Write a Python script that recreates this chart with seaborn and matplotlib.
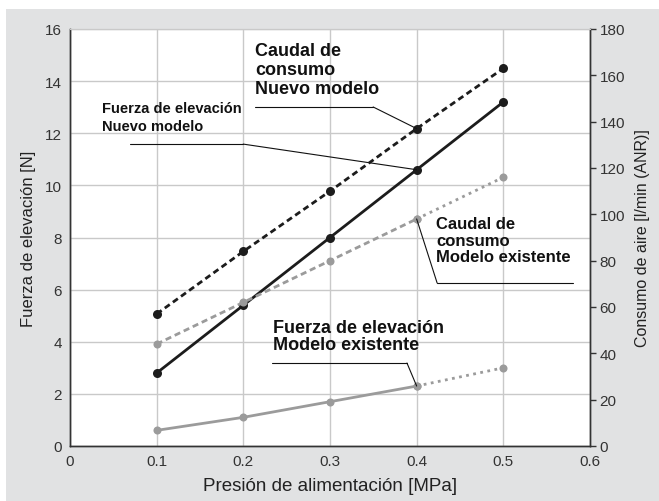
import numpy as np
import matplotlib
matplotlib.use('Agg')
import matplotlib.pyplot as plt
import seaborn as sns
from matplotlib.patches import Rectangle

# data
presion = [0.1, 0.2, 0.3, 0.4, 0.5]
fuerza_nuevo = [2.8, 5.4, 8.0, 10.6, 13.2]
fuerza_existente = [0.6, 1.1, 1.7, 2.3, 3.0]
caudal_nuevo = [57, 84, 110, 137, 163]
caudal_existente = [44, 62, 80, 98, 116]

x_ticks = [0, 0.1, 0.2, 0.3, 0.4, 0.5, 0.6]
x_labels = ['0', '0.1', '0.2', '0.3', '0.4', '0.5', '0.6']
y_left_ticks = [0, 2, 4, 6, 8, 10, 12, 14, 16]
y_right_ticks = [0, 20, 40, 60, 80, 100, 120, 140, 160, 180]

BLACK = '#1c1c1c'
GRAY = '#9b9b9b'
BG = '#e1e2e3'
GRID = '#c9c9c9'
INK = '#111111'

sns.set_style('white')
plt.rcParams['font.family'] = ['Liberation Sans', 'DejaVu Sans']

fig = plt.figure(figsize=(6.59, 5.02), dpi=100)
fig.patches.append(Rectangle((6 / 659, 0), 1, 1 - 10 / 502, transform=fig.transFigure,
                             facecolor=BG, edgecolor='none', zorder=-10))
ax = fig.add_axes([70 / 659, 1 - 447 / 502, 520 / 659, 417 / 502])
ax.set_facecolor('white')
ax2 = ax.twinx()


def draw(axis, xs, ys, color, ls, lw, ms):
    sns.lineplot(x=xs, y=ys, ax=axis, color=color, linestyle=ls, linewidth=lw,
                 marker='o', markersize=ms, markeredgewidth=0, legend=False)


# force lines (left axis)
draw(ax, presion, fuerza_nuevo, BLACK, '-', 2.0, 6.5)
draw(ax, presion[:4], fuerza_existente[:4], GRAY, '-', 2.0, 5.8)
draw(ax, presion[3:], fuerza_existente[3:], GRAY, (0, (1, 1.6)), 2.0, 5.8)

# flow lines (right axis)
draw(ax2, presion, caudal_nuevo, BLACK, (0, (2.2, 1.4)), 2.0, 6.5)
draw(ax2, presion[:4], caudal_existente[:4], GRAY, (0, (2.2, 1.4)), 2.0, 5.8)
draw(ax2, presion[3:], caudal_existente[3:], GRAY, (0, (1, 1.6)), 2.0, 5.8)

ax.set_xlim(0, 0.6)
ax.set_ylim(0, 16)
ax2.set_ylim(0, 180)
ax.set_xticks(x_ticks)
ax.set_xticklabels(x_labels)
ax.set_yticks(y_left_ticks)
ax2.set_yticks(y_right_ticks)
ax.grid(True, color=GRID, linewidth=1.0)
ax.set_axisbelow(True)

ax.tick_params(axis='both', length=0, labelsize=11, colors='#333333')
ax.tick_params(axis='x', pad=6)
ax.tick_params(axis='y', pad=6)
ax2.tick_params(axis='y', length=4, width=1, color='#333333', labelsize=11,
                labelcolor='#333333', pad=3)

for a in (ax, ax2):
    for s in ('left', 'bottom', 'right'):
        a.spines[s].set_color('#333333')
        a.spines[s].set_linewidth(1.0)
    a.spines['top'].set_color(GRID)

ax.set_xlabel('Presión de alimentación [MPa]', fontsize=13.5, color='#222222', labelpad=6)
ax.set_ylabel('Fuerza de elevación [N]', fontsize=12, color='#222222', labelpad=6)
ax2.set_ylabel('Consumo de aire [l/min (ANR)]', fontsize=11.5, color='#222222', labelpad=7)


def callout(axis, text, tx, ty, size, spacing, ux0, ux1, uy, end, px, py):
    # label text, underline and leader line to the data point
    axis.text(tx, ty, text, transform=ax.transAxes, ha='left', va='top',
              fontsize=size, fontweight='bold', color=INK,
              linespacing=spacing, zorder=5)
    axis.plot([ux0, ux1], [uy, uy], transform=ax.transAxes, color=INK, lw=0.8)
    axis.annotate('', xy=(px, py), xytext=(end, uy), textcoords=ax.transAxes,
                  arrowprops=dict(arrowstyle='-', color=INK, lw=0.8, shrinkA=0, shrinkB=0))


callout(ax2, 'Caudal de\nconsumo\nNuevo modelo', 0.356, 0.968, 13, 1.15,
        0.356, 0.583, 0.813, 0.583, presion[3], caudal_nuevo[3])
callout(ax, 'Fuerza de elevación\nNuevo modelo', 0.062, 0.828, 10.5, 1.4,
        0.115, 0.333, 0.724, 0.333, presion[3], fuerza_nuevo[3])
callout(ax2, 'Caudal de\nconsumo\nModelo existente', 0.704, 0.552, 12, 1.15,
        0.706, 0.967, 0.391, 0.706, presion[3], caudal_existente[3])
callout(ax, 'Fuerza de elevación\nModelo existente', 0.39, 0.305, 13, 1.05,
        0.388, 0.648, 0.199, 0.648, presion[3], fuerza_existente[3])

fig.savefig('out.png', dpi=100)
